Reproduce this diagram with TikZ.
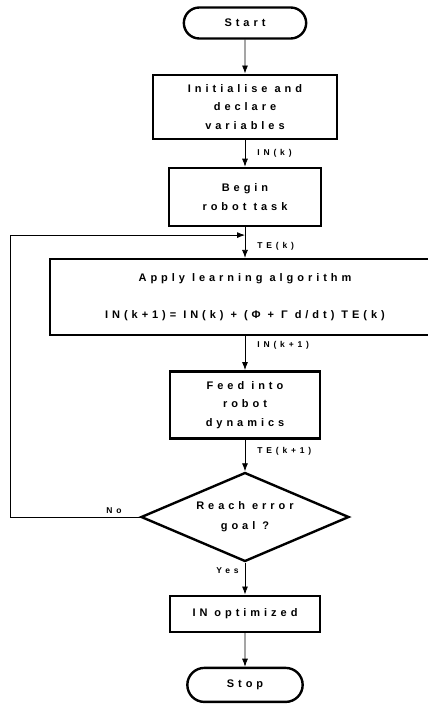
\documentclass[tikz,border=0pt]{standalone}
\usepackage{fontspec}
\newfontfamily\flowfont[LetterSpace=36]{Liberation Sans}
\newfontfamily\tagfont[LetterSpace=45]{Liberation Sans}
\usetikzlibrary{arrows.meta, positioning, shapes.geometric, shapes.misc}

\begin{document}
\begin{tikzpicture}[every node/.style={font=\flowfont\bfseries\fontsize{11}{18.5}\selectfont, align=center},
  box/.style={draw, rectangle, line width=2.4pt, inner sep=2pt},
  term/.style={draw, rounded rectangle, line width=2.4pt},
  decision/.style={draw, diamond, aspect=2.4, line width=2.4pt, minimum width=208pt, minimum height=89pt, inner sep=0pt},
  tag/.style={font=\tagfont\bfseries\fontsize{8.5}{10}\selectfont, inner sep=0pt},
  flow/.style={-{Latex[length=8pt, width=6pt]}, line width=0.8pt}]
  \useasboundingbox (0pt,0pt) rectangle (428pt,-707pt);
  \node[term, minimum width=129pt, minimum height=31pt] (start) at (245pt,-23pt) {Start};
  \node[box, below=33.8pt of start, minimum width=184pt, minimum height=64pt] (init) {Initialise and\\ declare\\ variables};
  \node[box, below=26.8pt of init, minimum width=152pt, minimum height=58pt] (begin) {Begin\\ robot task};
  \node[box, below=30.8pt of begin, minimum width=390pt, minimum height=76pt] (apply) {Apply learning algorithm\\[19pt] IN(k+1)= IN(k) + (Φ + Γ d/dt) TE(k)};
  \node[box, below=33.8pt of apply, minimum width=150pt, minimum height=67pt] (feed) {Feed into\\ robot\\ dynamics};
  \node[decision, below=31.8pt of feed] (goal) {Reach error\\[1.5pt] goal ?};
  \node[box, below=31.8pt of goal, minimum width=150pt, minimum height=36pt] (done) {IN optimized};
  \node[term, below=33.8pt of done, minimum width=122pt, minimum height=34pt] (stop) {Stop};
  \coordinate[below=8pt of begin] (join);
  \coordinate[left=129pt of goal.west] (corner);
  \draw[flow] (start) -- (init);
  \draw[flow] (init) -- (begin) node[tag, midway, right=12pt] {IN(k)};
  \draw[flow] (begin) -- (apply) node[tag, pos=0.62, right=12pt] {TE(k)};
  \draw[flow] (apply) -- (feed) node[tag, pos=0.28, right=12pt] {IN(k+1)};
  \draw[flow] (feed) -- (goal) node[tag, pos=0.36, right=12pt] {TE(k+1)};
  \draw[flow] (goal) -- (done) node[tag, pos=0.25, left=6pt] {Yes};
  \draw[flow] (done) -- (stop);
  \draw[flow] (goal.west) -- (corner) node[tag, pos=0.2, above=3pt] {No} |- (join);
\end{tikzpicture}
\end{document}
